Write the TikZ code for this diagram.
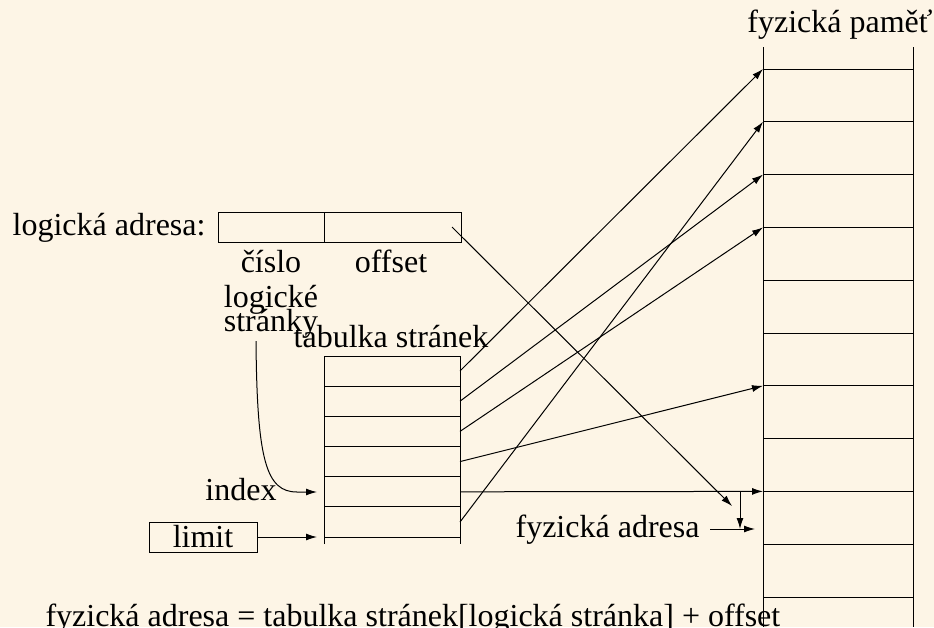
\documentclass[tikz,border=0pt]{standalone}
\usepackage{fontspec}
\setmainfont{Liberation Serif}
\usetikzlibrary{arrows.meta}
\definecolor{paper}{RGB}{253,245,230}
\tikzset{
  lbl/.style={inner sep=0pt,font=\fontsize{32}{38}\selectfont},
  arr/.style={-{Latex[length=11pt,width=7pt]}},
}
\begin{document}
\begin{tikzpicture}[x=1pt,y=-1pt,line width=1pt]
\fill[paper] (0,0) rectangle (934,627);
\useasboundingbox (0,0) rectangle (934,627);
% fyzicka pamet
\draw (763,47) -- (763,627) (913,47) -- (913,627);
\foreach \k in {1,...,11}{
  \coordinate (m\k) at (763,{69+52.8*(\k-1)});
  \draw (m\k) -- ++(150,0);
}
\node[lbl,anchor=base] (pamet) at (840,32) {fyzická paměť};
% tabulka stranek
\draw (324,544) -- (324,356) -- (460,356) -- (460,544);
\foreach \k in {1,...,6}{
  \draw (324,{386+30.2*(\k-1)}) -- (460,{386+30.2*(\k-1)});
  \coordinate (t\k) at (460,{371+30.2*(\k-1)});
}
\node[lbl,anchor=base] (tab) at (391,347) {tabulka stránek};
\coordinate (in5) at (317,492);
\coordinate (in6) at (317,537);
% logicka adresa
\draw (218,212) rectangle (461,242);
\draw (324,212) -- (324,242);
\node[lbl,anchor=base east] (logadr) at (206,235) {logická adresa:};
\node[lbl,anchor=base] (cislo) at (271,272) {číslo};
\node[lbl,anchor=base] (offset) at (391,272) {offset};
\node[lbl,anchor=base] (logicke) at (271,307) {logické};
\node[lbl,anchor=base] (stranky) at (271,331) {stránky};
\coordinate (s) at (256,341);
\coordinate (off) at (452,227);
% index, limit
\node[lbl,anchor=base east] (index) at (277,500) {index};
\node[lbl,draw,minimum width=108,minimum height=30] (limit) at (203,537) {limit};
\draw[arr] (s) .. controls (257,460) and (266,492) .. (297,492) -- (in5);
\draw[arr] (limit.east) -- (in6);
% preklad
\draw[arr] (t1) -- (m1);
\draw[arr] (t2) -- (m3);
\draw[arr] (t3) -- (m4);
\draw[arr] (t4) -- (m7);
\draw[arr] (t5) -- (m9);
\draw[arr] (t6) -- (m2);
\coordinate (fa) at (732,506);
\coordinate (j) at (740,492);
\coordinate (k) at (740,529);
\coordinate (kk) at (755,529);
\draw[arr] (off) -- (fa);
\draw[arr] (j) -- (k);
\node[lbl,anchor=base east] (fyzadr) at (700,537) {fyzická adresa};
\draw[arr] (710,529) -- (kk);
\node[lbl,anchor=base west] (vzorec) at (45,626) {fyzická adresa = tabulka stránek[logická stránka] + offset};
\end{tikzpicture}
\end{document}
